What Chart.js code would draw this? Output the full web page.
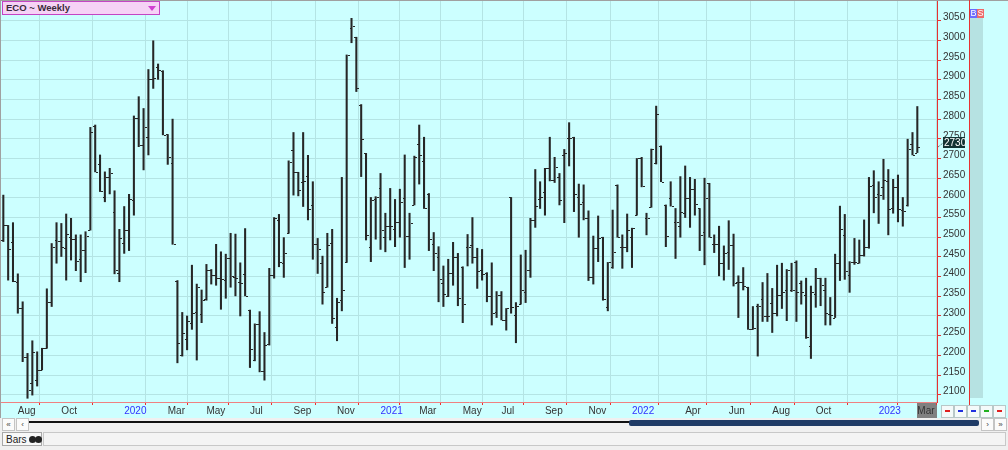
<!DOCTYPE html>
<html>
<head>
<meta charset="utf-8">
<title>ECO ~ Weekly</title>
<script src="https://cdn.jsdelivr.net/npm/chart.js@4.4.1/dist/chart.umd.min.js"></script>
<style>
  html, body { margin: 0; padding: 0; background: #f0f0f0; }
  #wrap { position: relative; width: 1008px; height: 450px; overflow: hidden; font-family: "Liberation Sans", Arial, sans-serif; }
  #plotBg { position: absolute; left: 0; top: 0; width: 1008px; height: 418px; background: #ccffff; border-top: 1px solid #a0a0a0; box-sizing: border-box; border-left: 1px solid #a0a0a0; }
  #marMark { position: absolute; left: 917px; top: 403px; width: 20px; height: 15px; background: #808080; }
  #ecoChart { position: absolute; left: 0; top: 0; }
  #axisLine { position: absolute; left: 969px; top: 0; width: 1px; height: 418px; background: #e83030; }
  #strip { position: absolute; left: 970px; top: 18px; width: 13px; height: 380px; background: #b6e2e2; }
  .bs { position: absolute; top: 9px; width: 7px; height: 9px; color: #fff; font-size: 9px; line-height: 9px; text-align: center; }
  #title { position: absolute; left: 2px; top: 1px; width: 153px; height: 12px; background: #f6d2f6; border: 1px solid #c444c4; font-size: 9.5px; font-weight: bold; color: #3a2a3a; line-height: 12px; padding-left: 3px; box-sizing: content-box; }
  #title .tri { position: absolute; right: 3px; top: 4px; width: 0; height: 0; border-left: 4px solid transparent; border-right: 4px solid transparent; border-top: 5px solid #d040d0; }
  .btn { position: absolute; width: 11px; height: 11px; background: #fbfbfb; border: 1px solid #c4c4c4; font-size: 8px; line-height: 11px; text-align: center; color: #444; }
  .mini { position: absolute; top: 405px; width: 11px; height: 11px; background: #f4fafa; border: 1px solid #b8c8c8; }
  .mini i { position: absolute; left: 3px; top: 4px; width: 5px; height: 2px; }
  #track { position: absolute; left: 29px; top: 421px; width: 601px; height: 2px; background: #111; }
  #thumb { position: absolute; left: 629px; top: 420px; width: 350px; height: 6px; background: #1f3b66; border-radius: 2px; }
  #barsTab { position: absolute; left: 2px; top: 432px; height: 14px; border: 1px solid #a8a8a8; background: #f8f8f8; font-size: 10px; line-height: 14px; color: #222; padding-left: 3px; box-sizing: border-box; width: 40px; }
  #barsTab b { position: absolute; top: 3px; width: 7px; height: 7px; border-radius: 50%; background: #222; }
  #statusBox { position: absolute; left: 43px; top: 432px; width: 963px; height: 14px; border: 1px solid #c8c8c8; background: #f4f4f4; box-sizing: border-box; }
</style>
</head>
<body>
<div id="wrap">
  <div id="plotBg"></div>
  <div id="marMark"></div>
  <div id="strip"></div>
  <canvas id="ecoChart" width="1008" height="418"></canvas>
  <div id="axisLine"></div>
  <div class="bs" style="left:970px;background:#6b6bff;">B</div>
  <div class="bs" style="left:977px;background:#ee6a6a;">S</div>
  <div id="title">ECO ~ Weekly<span class="tri"></span></div>
  <div class="mini" style="left:941px;"><i style="background:#e02020;"></i></div>
  <div class="mini" style="left:954px;"><i style="background:#2030e0;"></i></div>
  <div class="mini" style="left:967px;"><i style="background:#2030e0;"></i></div>
  <div class="mini" style="left:980px;"><i style="background:#20b020;"></i></div>
  <div class="mini" style="left:993px;"><i style="background:#e02020;"></i></div>
  <div class="btn" style="left:2px;top:418px;">«</div>
  <div class="btn" style="left:16px;top:418px;">‹</div>
  <div id="track"></div>
  <div id="thumb"></div>
  <div class="btn" style="left:981px;top:418px;">›</div>
  <div class="btn" style="left:994px;top:418px;">»</div>
  <div id="barsTab">Bars<b style="left:26px;"></b><b style="left:32px;"></b></div>
  <div id="statusBox"></div>
</div>
<script>
// weekly bars, oldest first (mid-July 2019 .. early March 2023)
const opens = [
  2492, 2530, 2488, 2387, 2319, 2197, 2129, 2137, 2163, 2218,
  2336, 2493, 2491, 2472, 2500, 2495, 2445, 2467, 2518, 2783,
  2686, 2603, 2654, 2565, 2410, 2486, 2518, 2594, 2804, 2734,
  2755, 2901, 2933, 2923, 2761, 2688, 2390, 2201, 2241, 2283,
  2310, 2305, 2342, 2418, 2404, 2396, 2391, 2446, 2400, 2387,
  2407, 2315, 2188, 2280, 2161, 2228, 2404, 2544, 2435, 2510,
  2721, 2665, 2641, 2656, 2582, 2482, 2434, 2374, 2486, 2273,
  2340, 2438, 3031, 3008, 2837, 2713, 2474, 2596, 2624, 2500,
  2528, 2520, 2539, 2599, 2503, 2582, 2737, 2694, 2611, 2484,
  2449, 2385, 2351, 2410, 2449, 2425, 2474, 2480, 2451, 2418,
  2410, 2351, 2310, 2353, 2291, 2601, 2303, 2330, 2362, 2418,
  2545, 2596, 2616, 2675, 2645, 2654, 2710, 2751, 2754, 2603,
  2590, 2548, 2400, 2472, 2500, 2324, 2425, 2633, 2474, 2474,
  2500, 2556, 2700, 2548, 2577, 2688, 2732, 2582, 2599, 2539,
  2528, 2561, 2599, 2622, 2573, 2514, 2637, 2484, 2484, 2434,
  2463, 2480, 2387, 2387, 2373, 2266, 2325, 2344, 2300, 2332,
  2307, 2353, 2366, 2366, 2438, 2385, 2352, 2224, 2357, 2396,
  2366, 2306, 2296, 2435, 2506, 2404, 2438, 2434, 2455, 2474,
  2632, 2610, 2627, 2643, 2573, 2627, 2569, 2582, 2737, 2715
];
const highs = [
  2607, 2530, 2537, 2407, 2336, 2205, 2237, 2209, 2218, 2369,
  2484, 2537, 2535, 2559, 2548, 2506, 2506, 2514, 2779, 2785,
  2709, 2666, 2675, 2618, 2520, 2578, 2609, 2808, 2857, 2827,
  2926, 2999, 2940, 2923, 2761, 2800, 2390, 2309, 2300, 2429,
  2381, 2366, 2431, 2418, 2482, 2463, 2457, 2510, 2508, 2435,
  2522, 2315, 2280, 2311, 2258, 2421, 2550, 2558, 2499, 2694,
  2766, 2665, 2766, 2708, 2641, 2497, 2452, 2510, 2520, 2345,
  2652, 2963, 3056, 3008, 2837, 2713, 2601, 2603, 2662, 2561,
  2624, 2596, 2622, 2709, 2561, 2706, 2785, 2754, 2611, 2512,
  2476, 2427, 2444, 2487, 2459, 2425, 2507, 2550, 2472, 2469,
  2410, 2435, 2362, 2362, 2319, 2601, 2334, 2455, 2467, 2548,
  2672, 2641, 2675, 2754, 2703, 2662, 2723, 2791, 2754, 2635,
  2633, 2567, 2503, 2554, 2500, 2436, 2569, 2633, 2506, 2559,
  2523, 2700, 2703, 2561, 2724, 2833, 2732, 2582, 2641, 2573,
  2654, 2681, 2652, 2647, 2573, 2650, 2637, 2506, 2528, 2478,
  2542, 2508, 2402, 2423, 2373, 2324, 2330, 2385, 2408, 2370,
  2429, 2434, 2418, 2434, 2440, 2389, 2396, 2376, 2421, 2396,
  2396, 2347, 2457, 2579, 2558, 2438, 2497, 2493, 2544, 2652,
  2669, 2641, 2698, 2672, 2647, 2658, 2601, 2749, 2766, 2832
];
const lows = [
  2489, 2391, 2387, 2307, 2184, 2091, 2099, 2122, 2163, 2218,
  2324, 2434, 2451, 2391, 2442, 2415, 2387, 2410, 2518, 2666,
  2616, 2590, 2610, 2407, 2387, 2459, 2466, 2556, 2730, 2671,
  2709, 2878, 2901, 2760, 2685, 2482, 2181, 2198, 2214, 2266,
  2188, 2283, 2340, 2381, 2378, 2317, 2345, 2373, 2351, 2300,
  2351, 2169, 2186, 2158, 2137, 2226, 2396, 2425, 2398, 2510,
  2607, 2605, 2578, 2544, 2444, 2408, 2330, 2373, 2281, 2237,
  2313, 2436, 2994, 2870, 2654, 2493, 2438, 2495, 2469, 2463,
  2493, 2476, 2500, 2423, 2444, 2582, 2635, 2573, 2466, 2415,
  2336, 2324, 2349, 2378, 2326, 2283, 2427, 2434, 2370, 2391,
  2336, 2277, 2296, 2290, 2264, 2307, 2232, 2330, 2334, 2398,
  2525, 2573, 2556, 2643, 2639, 2582, 2537, 2681, 2565, 2500,
  2544, 2390, 2381, 2438, 2340, 2313, 2421, 2500, 2421, 2463,
  2423, 2556, 2628, 2506, 2576, 2686, 2641, 2476, 2579, 2446,
  2500, 2550, 2525, 2556, 2466, 2430, 2500, 2461, 2402, 2391,
  2418, 2376, 2296, 2366, 2266, 2266, 2198, 2286, 2286, 2258,
  2300, 2319, 2288, 2362, 2286, 2330, 2243, 2192, 2322, 2326,
  2277, 2277, 2296, 2390, 2393, 2360, 2431, 2434, 2452, 2472,
  2562, 2535, 2596, 2506, 2561, 2539, 2528, 2579, 2709, 2715
];
const closes = [
  2530, 2469, 2390, 2319, 2195, 2112, 2209, 2163, 2218, 2336,
  2474, 2491, 2476, 2507, 2495, 2440, 2467, 2503, 2768, 2666,
  2617, 2652, 2662, 2418, 2497, 2518, 2596, 2804, 2734, 2779,
  2901, 2904, 2925, 2760, 2704, 2482, 2232, 2258, 2288, 2307,
  2373, 2340, 2418, 2404, 2396, 2393, 2446, 2402, 2396, 2385,
  2351, 2215, 2280, 2161, 2226, 2404, 2548, 2438, 2459, 2692,
  2665, 2621, 2644, 2571, 2482, 2469, 2362, 2480, 2294, 2336,
  2366, 2963, 3036, 2878, 2749, 2506, 2594, 2603, 2518, 2528,
  2528, 2539, 2590, 2503, 2537, 2703, 2709, 2573, 2495, 2461,
  2393, 2357, 2410, 2449, 2345, 2330, 2474, 2451, 2415, 2407,
  2351, 2307, 2353, 2291, 2319, 2322, 2325, 2366, 2418, 2545,
  2579, 2603, 2675, 2645, 2679, 2594, 2713, 2751, 2610, 2584,
  2548, 2400, 2472, 2497, 2342, 2436, 2463, 2500, 2474, 2518,
  2523, 2700, 2630, 2548, 2723, 2812, 2641, 2503, 2579, 2539,
  2565, 2599, 2622, 2584, 2506, 2599, 2500, 2484, 2434, 2459,
  2480, 2385, 2387, 2376, 2266, 2269, 2325, 2300, 2300, 2307,
  2353, 2362, 2416, 2366, 2362, 2360, 2246, 2360, 2396, 2379,
  2308, 2302, 2435, 2520, 2415, 2438, 2438, 2455, 2474, 2630,
  2601, 2607, 2645, 2571, 2627, 2571, 2567, 2723, 2709, 2730
];

// month labels sit on the first bar of each month
const tickIdx = [3, 12, 25, 34, 42, 51, 60, 69, 78, 86, 95, 103, 112, 121, 130, 141, 150, 159, 168, 181, 189];
const tickLabels = ['Aug', 'Oct', '2020', 'Mar', 'May', 'Jul', 'Sep', 'Nov', '2021', 'Mar', 'May', 'Jul', 'Sep', 'Nov', '2022', 'Apr', 'Jun', 'Aug', 'Oct', '2023', 'Mar'];
const priceTicks = [2100, 2150, 2200, 2250, 2300, 2350, 2400, 2450, 2500, 2550, 2600, 2650, 2700, 2750, 2800, 2850, 2900, 2950, 3000, 3050];
const lastPrice = 2730;

const gridColor = '#b4e4e4';
const axisRed = '#e83030';
const barColor = '#262626';

// open tick on the left, close tick on the right of each high-low bar
const ohlcTicks = {
  id: 'ohlcTicks',
  afterDatasetsDraw(chart) {
    const { ctx, scales: { y } } = chart;
    const meta = chart.getDatasetMeta(0);
    ctx.save();
    ctx.strokeStyle = barColor;
    ctx.lineWidth = 1;
    ctx.beginPath();
    meta.data.forEach((bar, i) => {
      const x = Math.round(bar.x);
      const yo = Math.round(y.getPixelForValue(opens[i])) + 0.5;
      const yc = Math.round(y.getPixelForValue(closes[i])) + 0.5;
      ctx.moveTo(x - 2, yo);
      ctx.lineTo(x, yo);
      ctx.moveTo(x + 1, yc);
      ctx.lineTo(x + 3, yc);
    });
    ctx.stroke();

    // last price flag on the price axis
    const py = Math.round(y.getPixelForValue(lastPrice)) - 4;
    const ax = chart.chartArea.right;
    ctx.fillStyle = '#143434';
    ctx.fillRect(ax + 6, py - 6, 22, 11);
    ctx.strokeStyle = '#2a5a5a';
    ctx.setLineDash([1, 1]);
    ctx.beginPath();
    ctx.moveTo(ax + 1, py + 4);
    ctx.lineTo(ax + 6, py);
    ctx.stroke();
    ctx.setLineDash([]);
    ctx.fillStyle = '#ffffff';
    ctx.font = '10px "Liberation Sans"';
    ctx.textBaseline = 'middle';
    ctx.fillText(String(lastPrice), ax + 7, py);
    ctx.restore();
  }
};

const ctx = document.getElementById('ecoChart').getContext('2d');
new Chart(ctx, {
  type: 'bar',
  data: {
    datasets: [{
      label: 'ECO',
      data: lows.map((l, i) => ({ x: i, y: [l, highs[i]] })),
      backgroundColor: barColor,
      borderWidth: 0,
      barThickness: 1.4,
      grouped: false
    }]
  },
  options: {
    responsive: false,
    animation: false,
    devicePixelRatio: 1,
    layout: { padding: { left: 1, top: 1, right: 39, bottom: 0 } },
    scales: {
      x: {
        type: 'linear',
        min: -0.48,
        max: 193.07,
        offset: false,
        afterBuildTicks: s => { s.ticks = tickIdx.map(v => ({ value: v })); },
        afterFit: s => { s.height = 16; s.paddingLeft = 0; s.paddingRight = 0; },
        grid: { color: gridColor, tickColor: axisRed, tickLength: 3 },
        border: { color: '#f08080' },
        ticks: {
          autoSkip: false,
          maxRotation: 0,
          align: 'start',
          padding: 0,
          callback: (v, i) => tickLabels[i],
          color: c => /^\d{4}$/.test(c.tick.label) ? '#3030ff' : '#333333',
          font: { family: 'Liberation Sans', size: 10 }
        }
      },
      y: {
        position: 'right',
        min: 2081.5,
        max: 3100,
        afterBuildTicks: s => { s.ticks = priceTicks.map(v => ({ value: v })); },
        afterFit: s => { s.width = 32; s.paddingTop = 0; s.paddingBottom = 0; },
        grid: { color: gridColor, tickColor: axisRed, tickLength: 4 },
        border: { color: axisRed },
        ticks: {
          padding: 2,
          labelOffset: -3,
          color: '#333333',
          callback: v => String(v),
          font: { family: 'Liberation Sans', size: 10 }
        }
      }
    },
    plugins: {
      legend: { display: false },
      tooltip: { enabled: false }
    }
  },
  plugins: [ohlcTicks]
});
</script>
</body>
</html>
